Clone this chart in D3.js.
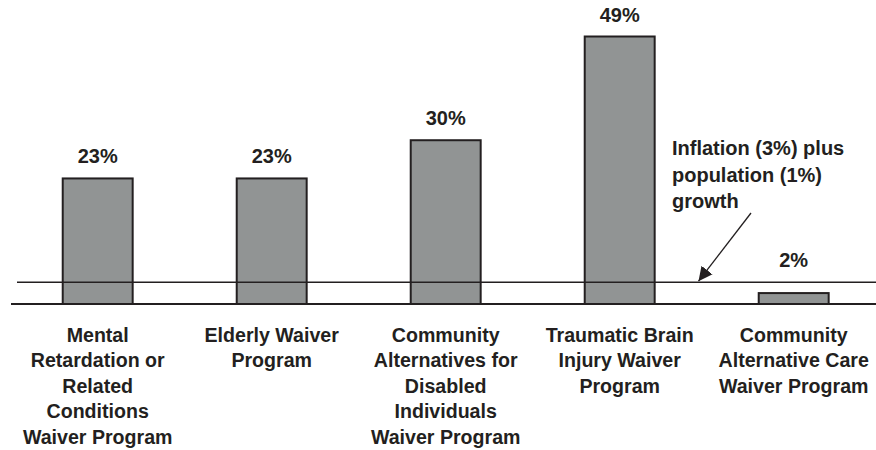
<!DOCTYPE html>
<html>
<head>
<meta charset="utf-8">
<script src="https://cdn.jsdelivr.net/npm/d3@7"></script>
<style>
  html, body { margin: 0; padding: 0; background: #fff; }
  svg { display: block; }
  text { font-family: "Liberation Sans", Arial, Helvetica, sans-serif; font-weight: bold; fill: #231f20; }
</style>
</head>
<body>
<svg id="chart" width="876" height="450"></svg>
<script>
const categories = [
  ["Mental", "Retardation or", "Related", "Conditions", "Waiver Program"],
  ["Elderly Waiver", "Program"],
  ["Community", "Alternatives for", "Disabled", "Individuals", "Waiver Program"],
  ["Traumatic Brain", "Injury Waiver", "Program"],
  ["Community", "Alternative Care", "Waiver Program"]
];
const values = [23, 23, 30, 49, 2];
const valueLabels = ["23%", "23%", "30%", "49%", "2%"];
const threshold = 4;
const annotationLines = ["Inflation (3%) plus", "population (1%)", "growth"];

const svg = d3.select("#chart");
const ids = categories.map((c, i) => i);

const x = d3.scaleBand().domain(ids).range([10.7, 880.7]).paddingInner(0.598).paddingOuter(0.299);
const y = d3.scaleLinear().domain([0, 49]).range([304, 36.5]);

const ink = "#231f20";

// bars
svg.append("g").selectAll("rect").data(values).join("rect")
  .attr("x", (d, i) => x(i))
  .attr("y", d => y(d))
  .attr("width", x.bandwidth())
  .attr("height", d => y(0) - y(d))
  .attr("fill", "#919494")
  .attr("stroke", ink)
  .attr("stroke-width", 2);

// threshold line
svg.append("line")
  .attr("x1", 17).attr("x2", 876)
  .attr("y1", y(threshold)).attr("y2", y(threshold))
  .attr("stroke", ink).attr("stroke-width", 1.5);

// baseline
svg.append("line")
  .attr("x1", 11).attr("x2", 876)
  .attr("y1", y(0)).attr("y2", y(0))
  .attr("stroke", ink).attr("stroke-width", 2);

// value labels
svg.append("g").selectAll("text").data(values).join("text")
  .attr("x", (d, i) => x(i) + x.bandwidth() / 2)
  .attr("y", d => Math.min(y(d), y(threshold)) - 15)
  .attr("text-anchor", "middle")
  .attr("font-size", 20)
  .text((d, i) => valueLabels[i]);

// category labels
const cat = svg.append("g").selectAll("text").data(categories).join("text")
  .attr("x", (d, i) => x(i) + x.bandwidth() / 2)
  .attr("y", 341.5)
  .attr("text-anchor", "middle")
  .attr("font-size", 19.6);
cat.selectAll("tspan").data(d => d).join("tspan")
  .attr("x", function() { return d3.select(this.parentNode).attr("x"); })
  .attr("dy", (d, j) => j === 0 ? 0 : 25.6)
  .text(d => d);

// annotation
const ann = svg.append("text").attr("x", 672).attr("y", 155).attr("font-size", 20);
ann.selectAll("tspan").data(annotationLines).join("tspan")
  .attr("x", 672).attr("dy", (d, j) => j === 0 ? 0 : 26.5).text(d => d);

// arrow
const defs = svg.append("defs");
defs.append("marker").attr("id", "arrow")
  .attr("viewBox", "0 0 10 10").attr("refX", 10).attr("refY", 5)
  .attr("markerUnits", "userSpaceOnUse")
  .attr("markerWidth", 14).attr("markerHeight", 18)
  .attr("orient", "auto")
  .append("path").attr("d", "M0,0 L10,5 L0,10 Z").attr("fill", ink);

svg.append("line")
  .attr("x1", 751).attr("y1", 213)
  .attr("x2", 698.5).attr("y2", y(threshold) - 1)
  .attr("stroke", ink).attr("stroke-width", 1.3)
  .attr("marker-end", "url(#arrow)");
</script>
</body>
</html>
